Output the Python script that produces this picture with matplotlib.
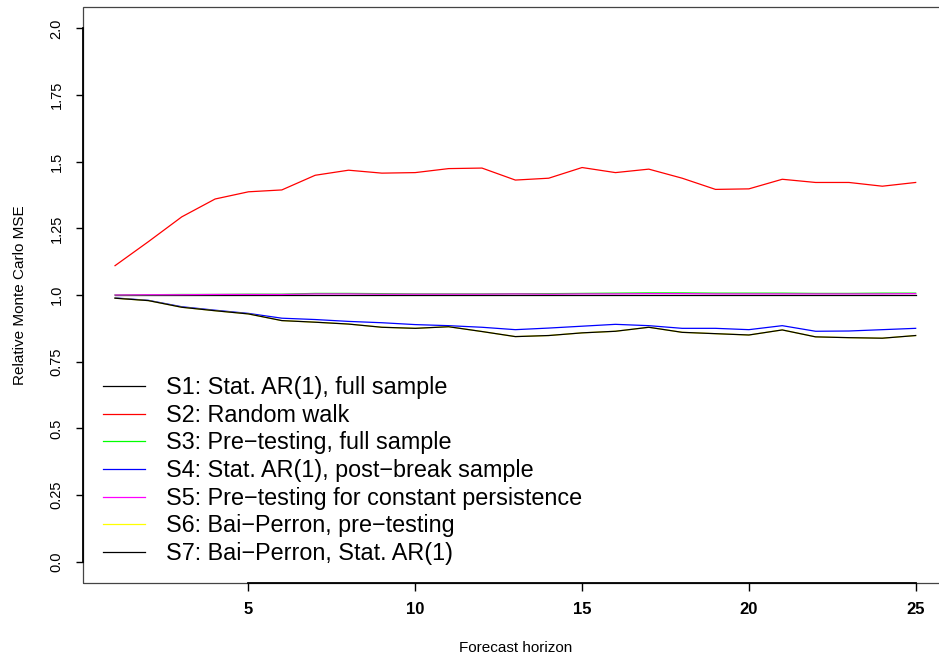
import matplotlib
matplotlib.use("Agg")
import matplotlib.pyplot as plt
from matplotlib.patches import Rectangle

plt.rcParams['font.family'] = ['Liberation Sans', 'DejaVu Sans']

horizon = list(range(1, 26))

s1_stat_full = [1.000] * 25
s2_random_walk = [1.110, 1.200, 1.293, 1.360, 1.387, 1.394, 1.449, 1.468, 1.457, 1.459,
                  1.474, 1.476, 1.431, 1.438, 1.478, 1.459, 1.472, 1.438, 1.396, 1.398,
                  1.434, 1.422, 1.422, 1.408, 1.422]
s3_pretest_full = [1.000, 1.001, 1.002, 1.002, 1.003, 1.003, 1.006, 1.006, 1.005, 1.004,
                   1.004, 1.004, 1.005, 1.005, 1.006, 1.007, 1.008, 1.008, 1.007, 1.007,
                   1.007, 1.006, 1.006, 1.007, 1.007]
s4_stat_post = [0.989, 0.980, 0.956, 0.943, 0.931, 0.913, 0.908, 0.901, 0.896, 0.889,
                0.885, 0.879, 0.870, 0.876, 0.883, 0.890, 0.885, 0.875, 0.875, 0.870,
                0.885, 0.864, 0.865, 0.870, 0.875]
s5_pretest_const = [1.000, 1.001, 1.001, 1.002, 1.002, 1.002, 1.004, 1.004, 1.003, 1.003,
                    1.003, 1.003, 1.004, 1.003, 1.004, 1.004, 1.005, 1.005, 1.004, 1.004,
                    1.004, 1.004, 1.004, 1.004, 1.005]
s6_bp_pretest = [0.988, 0.979, 0.954, 0.941, 0.929, 0.904, 0.898, 0.891, 0.879, 0.875,
                 0.881, 0.863, 0.844, 0.848, 0.858, 0.864, 0.879, 0.860, 0.855, 0.850,
                 0.869, 0.843, 0.840, 0.838, 0.848]
s7_bp_stat = [0.988, 0.979, 0.954, 0.941, 0.929, 0.904, 0.898, 0.891, 0.879, 0.875,
              0.881, 0.863, 0.844, 0.848, 0.858, 0.864, 0.879, 0.860, 0.855, 0.850,
              0.869, 0.843, 0.840, 0.838, 0.848]

series = [
    (s1_stat_full, 'black', 'S1: Stat. AR(1), full sample'),
    (s2_random_walk, 'red', 'S2: Random walk'),
    (s3_pretest_full, '#00FF00', 'S3: Pre\u2212testing, full sample'),
    (s4_stat_post, 'blue', 'S4: Stat. AR(1), post\u2212break sample'),
    (s5_pretest_const, 'magenta', 'S5: Pre\u2212testing for constant persistence'),
    (s6_bp_pretest, 'yellow', 'S6: Bai\u2212Perron, pre\u2212testing'),
    (s7_bp_stat, 'black', 'S7: Bai\u2212Perron, Stat. AR(1)'),
]

y_ticks = [0.0, 0.25, 0.5, 0.75, 1.0, 1.25, 1.5, 1.75, 2.0]
y_ticklabels = ['0.0', '0.25', '0.5', '0.75', '1.0', '1.25', '1.5', '1.75', '2.0']
x_ticks = [5, 10, 15, 20, 25]

W, H = 939, 659
fig = plt.figure(figsize=(W / 100, H / 100), dpi=100)
# plot box runs past the right edge of the picture, as in the reference
ax = fig.add_axes([83 / W, 76 / H, 864.7 / W, 576 / H])

for vals, col, lab in series:
    ax.plot(horizon, vals, color=col, lw=0.9, label=lab)

ax.set_xlim(0.04, 25.96)
ax.set_ylim(-0.08, 2.08)

# R style: box plus axis lines only over the tick range
for sp in ax.spines.values():
    sp.set_visible(False)
ax.spines['left'].set_visible(True)
ax.spines['bottom'].set_visible(True)
ax.spines['left'].set_bounds(0, 2)
ax.spines['bottom'].set_bounds(5, 25)
ax.spines['left'].set_linewidth(1.3)
ax.spines['bottom'].set_linewidth(1.3)
ax.add_patch(Rectangle((0, 0), 1, 1, transform=ax.transAxes, fill=False,
                       ec='#444444', lw=0.9, clip_on=False))

ax.set_xticks(x_ticks)
ax.set_xticklabels([str(t) for t in x_ticks], fontweight='bold', fontsize=12)
ax.set_yticks(y_ticks)
ax.set_yticklabels(y_ticklabels, rotation=90, va='center', fontsize=10.5)
ax.tick_params(axis='x', length=6, width=1, pad=8)
ax.tick_params(axis='y', length=5, width=1, pad=9)

ax.set_xlabel('Forecast horizon', fontsize=11)
ax.xaxis.label.set_va('center')
ax.xaxis.set_label_coords(0.5, -0.113)
ax.set_ylabel('Relative Monte Carlo MSE', fontsize=11)
ax.yaxis.label.set_va('center')
ax.yaxis.set_label_coords(-0.073, 0.5)

ax.legend(loc='upper left', bbox_to_anchor=(103 / W, 1 - 376 / H),
          bbox_transform=fig.transFigure, frameon=False, fontsize=16.8,
          handlelength=1.8, handletextpad=0.9, labelspacing=0.2,
          borderaxespad=0, borderpad=0)

fig.savefig('out.png', dpi=100)
